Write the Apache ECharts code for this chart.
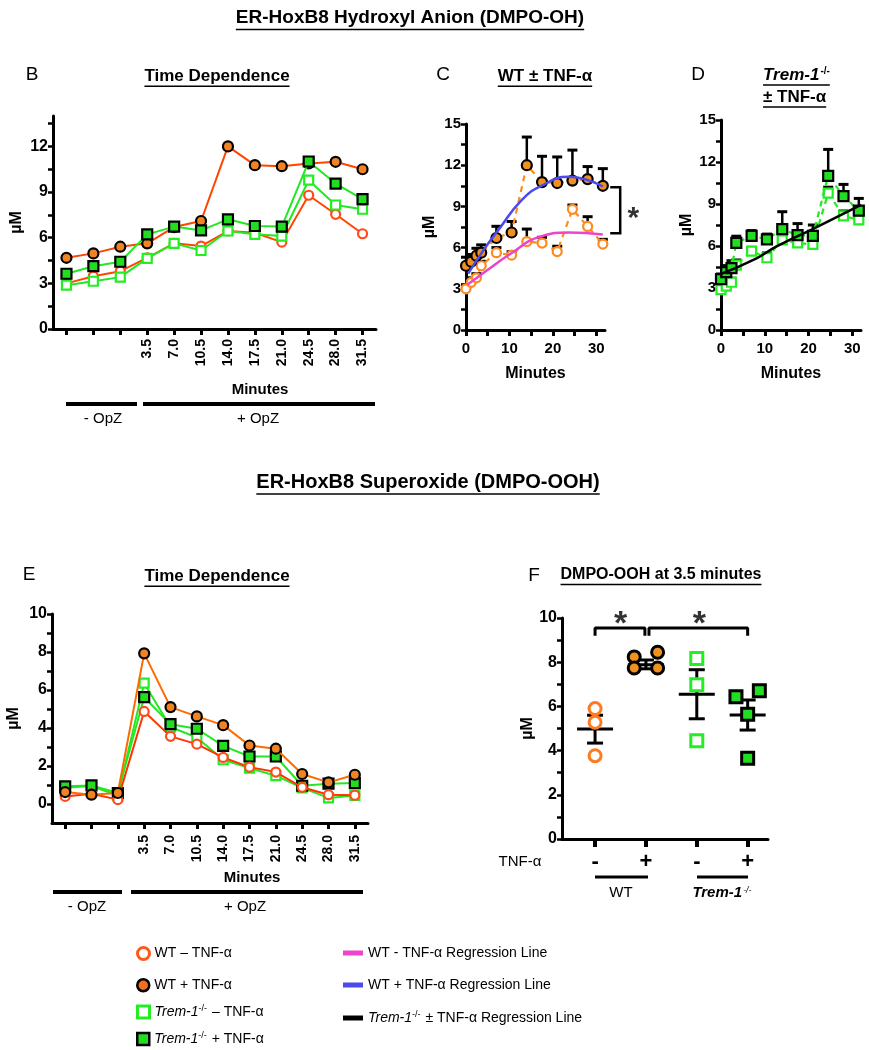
<!DOCTYPE html>
<html><head><meta charset="utf-8">
<script src="https://cdn.jsdelivr.net/npm/echarts@6/dist/echarts.min.js"></script>
<style>html,body{margin:0;padding:0;background:#fff}#c{width:869px;height:1050px}</style>
</head><body><div id="c"></div>
<script>
// ---------- DATA ----------
const timeCats = [' ', '  ', '   ', '3.5', '7.0', '10.5', '14.0', '17.5', '21.0', '24.5', '28.0', '31.5'];
const timesMin = [0, 1.2, 2.4, 3.5, 7, 10.5, 14, 17.5, 21, 24.5, 28, 31.5];

// DMPO-OH (µM)
const ohWTminus   = [3.0, 3.47, 3.8, 4.68, 5.63, 5.45, 6.44, 6.33, 5.71, 8.79, 7.54, 6.26];
const ohWTplus    = [4.68, 4.97, 5.41, 5.63, 6.70, 7.10, 12.0, 10.77, 10.70, 10.88, 10.99, 10.5];
const ohTremMinus = [2.88, 3.14, 3.41, 4.64, 5.63, 5.16, 6.44, 6.22, 6.11, 9.78, 8.15, 7.87];
const ohTremPlus  = [3.63, 4.13, 4.42, 6.22, 6.73, 6.48, 7.21, 6.77, 6.73, 11.01, 9.56, 8.53];
// upper SEM ends (µM)
const ohWTplusTop    = [5.3, 5.5, 5.95, 6.2, 7.55, 7.9, 14.05, 12.65, 12.6, 13.1, 11.9, 11.75];
const ohWTminusTop   = [3.3, 3.8, 4.1, 5.0, 6.0, 5.7, 7.35, 6.75, 6.1, 9.1, 8.25, 6.6];
const ohTremPlusTop  = [4.0, 4.6, 4.95, 6.7, 7.1, 6.85, 8.45, 7.6, 7.5, 12.9, 10.4, 9.4];
const ohTremMinusTop = [3.1, 3.4, 3.7, 5.0, 5.9, 5.5, 6.8, 6.5, 6.4, 10.2, 8.5, 8.1];
// regression curves [minutes, µM]
const regWTminus = [[0.3, 3.3], [5.1, 4.4], [10, 5.5], [17.1, 6.8], [23.8, 7.1], [31.5, 6.95]];
const regWTplus  = [[0.5, 4.1], [4, 5.8], [7.5, 7.3], [12.8, 9.45], [17.1, 10.45], [23.6, 11.15], [31.5, 10.45]];
const regTrem    = [[0, 4.0], [8, 5.1], [12.6, 5.95], [21.3, 7.26], [32, 8.93]];

// DMPO-OOH (µM)
const oohWTminus   = [0.40, 0.54, 0.23, 4.87, 3.56, 3.15, 2.45, 1.94, 1.68, 0.88, 0.49, 0.46];
const oohWTplus    = [0.63, 0.49, 0.58, 7.93, 5.10, 4.61, 4.15, 3.08, 2.91, 1.58, 1.14, 1.54];
const oohTremMinus = [0.85, 0.95, 0.45, 6.36, 4.05, 3.50, 2.33, 1.89, 1.49, 0.85, 0.32, 0.45];
const oohTremPlus  = [0.93, 0.98, 0.58, 5.62, 4.20, 3.96, 3.06, 2.50, 2.50, 0.96, 1.07, 1.10];

// Panel F: DMPO-OOH at 3.5 minutes
const fGroups = [1, 2, 3, 4];
const fSigns = ['-', '+', '-', '+'];
const fWTminus = [5.9, 5.28, 3.77];
const fWTplus = [8.24, 8.45, 7.74, 7.74];
const fTremMinus = [8.17, 6.98, 4.45];
const fTremPlus = [6.44, 6.71, 5.64, 3.65];
const fJitterWTplus = [-0.23, 0.23, -0.23, 0.23];
const fJitterTremPlus = [-0.23, 0.23, 0, 0];
const fMean = [4.98, 7.89, 6.55, 5.61];
const fSemLo = [4.34, 7.70, 5.44, 4.93];
const fSemHi = [5.60, 8.10, 7.66, 6.29];

// tick values
const yTicksB = [0, 1.5, 3, 4.5, 6, 7.5, 9, 10.5, 12, 13.5];
const yLabelsB = [0, 3, 6, 9, 12];
const yTicksCD = [0, 1.5, 3, 4.5, 6, 7.5, 9, 10.5, 12, 13.5, 15];
const yLabelsCD = [0, 3, 6, 9, 12, 15];
const xTicksCD = [0, 5, 10, 15, 20, 25, 30];
const xLabelsCD = [0, 10, 20, 30];
const yTicksEF = [0, 1, 2, 3, 4, 5, 6, 7, 8, 9, 10];
const yLabelsEF = [0, 2, 4, 6, 8, 10];

// ---------- STYLE ----------
const FONT = '"Liberation Sans", Arial, Helvetica, sans-serif';
const C_WT_LINE = '#FF4500', C_WT_MK = '#FF4A1A', C_WT_FILL = '#F28322';
const C_GR_LINE = '#22E822', C_GR_MK = '#22EE22', C_GR_FILL = '#22DD22';
const C_OR2 = '#FF8A1E', C_OR2_FILL = '#F0901E';
const C_PINK = '#EE44CC', C_BLUE = '#4A4AEE';

const chart = echarts.init(document.getElementById('c'), null, {renderer: 'canvas'});

function yAx(grid, min, max, ticks, labels, gap, fs) {
  return {
    gridIndex: grid, type: 'value', min: min, max: max,
    name: 'µM', nameLocation: 'middle', nameRotate: 90, nameGap: gap,
    nameTextStyle: {fontSize: 16, fontWeight: 'bold', fontFamily: FONT, color: '#000'},
    axisLine: {show: true, onZero: false, lineStyle: {color: '#000', width: 3}},
    axisTick: {show: true, length: 5, lineStyle: {color: '#000', width: 2.5}, customValues: ticks},
    axisLabel: {customValues: labels, fontSize: fs, fontWeight: 'bold', color: '#000', fontFamily: FONT, margin: 5},
    splitLine: {show: false}
  };
}
function xCat(grid, margin) {
  return {
    gridIndex: grid, type: 'category', data: timeCats, boundaryGap: true,
    axisLine: {show: true, onZero: false, lineStyle: {color: '#000', width: 3}},
    axisTick: {show: true, alignWithLabel: true, length: 6, lineStyle: {color: '#000', width: 3}},
    axisLabel: {rotate: 90, interval: 0, fontSize: 14, fontWeight: 'bold', color: '#000', fontFamily: FONT, margin: margin},
    splitLine: {show: false}
  };
}
function xMin(grid) {
  return {
    gridIndex: grid, type: 'value', min: 0, max: 32,
    name: 'Minutes', nameLocation: 'middle', nameGap: 36,
    nameTextStyle: {fontSize: 16, fontWeight: 'bold', fontFamily: FONT, color: '#000'},
    axisLine: {show: true, onZero: false, lineStyle: {color: '#000', width: 3}},
    axisTick: {show: true, length: 6, lineStyle: {color: '#000', width: 3}, customValues: xTicksCD},
    axisLabel: {customValues: xLabelsCD, fontSize: 15, fontWeight: 'bold', color: '#000', fontFamily: FONT, margin: 11},
    splitLine: {show: false}
  };
}

function lineSeries(name, xi, data, lineColor, sym, fill, border, size, extra) {
  return Object.assign({
    type: 'line', name: name, xAxisIndex: xi, yAxisIndex: xi, data: data,
    symbol: sym, symbolSize: size, showSymbol: true,
    lineStyle: {color: lineColor, width: 2},
    itemStyle: {color: fill, borderColor: border, borderWidth: 2.2},
    emphasis: {disabled: true}, z: 3
  }, extra || {});
}
function errUp(xi, data) {
  return {
    type: 'custom', xAxisIndex: xi, yAxisIndex: xi, data: data, z: 1, silent: true,
    renderItem: function (params, api) {
      const p0 = api.coord([api.value(0), api.value(1)]);
      const p1 = api.coord([api.value(0), api.value(2)]);
      return {type: 'group', children: [
        {type: 'line', shape: {x1: p0[0], y1: p0[1], x2: p1[0], y2: p1[1]}, style: {stroke: '#000', lineWidth: 2.5}},
        {type: 'line', shape: {x1: p1[0] - 5, y1: p1[1], x2: p1[0] + 5, y2: p1[1]}, style: {stroke: '#000', lineWidth: 3}}
      ]};
    }
  };
}
// bracket: [xInner, xOuter, yTop, yBottom] (vertical bracket opening left)
function vBracket(xi, data) {
  return {
    type: 'custom', xAxisIndex: xi, yAxisIndex: xi, data: data, clip: false, silent: true, z: 5,
    renderItem: function (params, api) {
      const a = api.coord([api.value(0), api.value(2)]);
      const b = api.coord([api.value(1), api.value(2)]);
      const c = api.coord([api.value(1), api.value(3)]);
      const d = api.coord([api.value(0), api.value(3)]);
      return {type: 'polyline', shape: {points: [a, b, c, d]}, style: {stroke: '#000', lineWidth: 2.5, fill: null}};
    }
  };
}
const pair = (xs, ys) => xs.map((x, i) => [x, ys[i]]);

const series = [];
// ---- Panel B (grid 0)
series.push(lineSeries('WT – TNF-α', 0, ohWTminus, C_WT_LINE, 'circle', '#fff', C_WT_MK, 9, {z: 3}));
series.push(lineSeries('Trem-1-/- – TNF-α', 0, ohTremMinus, C_GR_LINE, 'rect', '#fff', C_GR_MK, 9, {z: 4}));
series.push(lineSeries('WT + TNF-α', 0, ohWTplus, C_WT_LINE, 'circle', C_WT_FILL, '#000', 10, {z: 5}));
series.push(lineSeries('Trem-1-/- + TNF-α', 0, ohTremPlus, C_GR_LINE, 'rect', C_GR_FILL, '#000', 10, {z: 6}));

// ---- Panel C (grid 1)
series.push(errUp(1, timesMin.map((t, i) => [t, ohWTminus[i], ohWTminusTop[i]])));
series.push(errUp(1, timesMin.map((t, i) => [t, ohWTplus[i], ohWTplusTop[i]])));
series.push(lineSeries('WT – TNF-α', 1, pair(timesMin, ohWTminus), C_OR2, 'circle', '#fff', C_OR2, 9,
  {lineStyle: {color: C_OR2, width: 2.2, type: [6, 5]}, z: 3}));
series.push(lineSeries('WT + TNF-α', 1, pair(timesMin, ohWTplus), C_OR2, 'circle', C_OR2_FILL, '#000', 10,
  {lineStyle: {color: C_OR2, width: 2.2, type: [6, 5]}, z: 4}));
series.push({type: 'line', name: 'WT - TNF-α Regression Line', xAxisIndex: 1, yAxisIndex: 1, data: regWTminus,
  smooth: true, symbol: 'none', lineStyle: {color: C_PINK, width: 2.5}, itemStyle: {color: C_PINK}, z: 7, silent: true});
series.push({type: 'line', name: 'WT + TNF-α Regression Line', xAxisIndex: 1, yAxisIndex: 1, data: regWTplus,
  smooth: true, symbol: 'none', lineStyle: {color: C_BLUE, width: 2.5}, itemStyle: {color: C_BLUE}, z: 7, silent: true});
// significance bracket and star
series.push(vBracket(1, [[33.2, 35.5, 10.4, 7.05]]));
series.push({type: 'scatter', xAxisIndex: 1, yAxisIndex: 1, data: [[38.5, 8.1]], symbolSize: 0, clip: false, silent: true,
  label: {show: true, position: 'inside', formatter: '*', fontSize: 30, fontWeight: 'bold', color: '#000', fontFamily: FONT}});

// ---- Panel D (grid 2)
series.push(errUp(2, timesMin.map((t, i) => [t, ohTremMinus[i], ohTremMinusTop[i]])));
series.push(errUp(2, timesMin.map((t, i) => [t, ohTremPlus[i], ohTremPlusTop[i]])));
series.push(lineSeries('Trem-1-/- – TNF-α', 2, pair(timesMin, ohTremMinus), C_GR_LINE, 'rect', '#fff', C_GR_MK, 9,
  {lineStyle: {color: C_GR_LINE, width: 2.2, type: [6, 5]}, z: 3}));
series.push(lineSeries('Trem-1-/- + TNF-α', 2, pair(timesMin, ohTremPlus), C_GR_LINE, 'rect', C_GR_FILL, '#000', 10,
  {lineStyle: {color: C_GR_LINE, width: 2.2, type: [6, 5]}, z: 4}));
series.push({type: 'line', name: 'Trem-1-/- ± TNF-α Regression Line', xAxisIndex: 2, yAxisIndex: 2, data: regTrem,
  smooth: true, symbol: 'none', lineStyle: {color: '#000', width: 2.5}, itemStyle: {color: '#000'}, z: 7, silent: true});

// ---- Panel E (grid 3)
series.push(lineSeries('Trem-1-/- – TNF-α', 3, oohTremMinus, C_GR_LINE, 'rect', '#fff', C_GR_MK, 9, {z: 3}));
series.push(lineSeries('Trem-1-/- + TNF-α', 3, oohTremPlus, C_GR_LINE, 'rect', C_GR_FILL, '#000', 10, {z: 4}));
series.push(lineSeries('WT – TNF-α', 3, oohWTminus, '#FF3300', 'circle', '#fff', C_WT_MK, 9, {z: 5}));
series.push(lineSeries('WT + TNF-α', 3, oohWTplus, '#FF6A00', 'circle', C_WT_FILL, '#000', 10, {z: 6}));

// ---- Panel F (grid 4)
series.push({type: 'custom', xAxisIndex: 4, yAxisIndex: 4, silent: true, z: 2,
  data: fGroups.map((g, i) => [g, fMean[i], fSemLo[i], fSemHi[i]]),
  renderItem: function (params, api) {
    const m = api.coord([api.value(0), api.value(1)]);
    const lo = api.coord([api.value(0), api.value(2)]);
    const hi = api.coord([api.value(0), api.value(3)]);
    const st = {stroke: '#000', lineWidth: 3};
    return {type: 'group', children: [
      {type: 'line', shape: {x1: lo[0], y1: lo[1], x2: hi[0], y2: hi[1]}, style: st},
      {type: 'line', shape: {x1: lo[0] - 8, y1: lo[1], x2: lo[0] + 8, y2: lo[1]}, style: st},
      {type: 'line', shape: {x1: hi[0] - 8, y1: hi[1], x2: hi[0] + 8, y2: hi[1]}, style: st},
      {type: 'line', shape: {x1: m[0] - 18, y1: m[1], x2: m[0] + 18, y2: m[1]}, style: st}
    ]};
  }});
series.push({type: 'scatter', name: 'WT – TNF-α', xAxisIndex: 4, yAxisIndex: 4, z: 4,
  data: fWTminus.map(v => [fGroups[0], v]), symbol: 'circle', symbolSize: 12,
  itemStyle: {color: '#fff', borderColor: '#FF7A1E', borderWidth: 3, opacity: 1}});
series.push({type: 'scatter', name: 'WT + TNF-α', xAxisIndex: 4, yAxisIndex: 4, z: 4,
  data: fWTplus.map((v, i) => [fGroups[1] + fJitterWTplus[i], v]), symbol: 'circle', symbolSize: 12,
  itemStyle: {color: C_OR2_FILL, borderColor: '#000', borderWidth: 3, opacity: 1}});
series.push({type: 'scatter', name: 'Trem-1-/- – TNF-α', xAxisIndex: 4, yAxisIndex: 4, z: 4,
  data: fTremMinus.map(v => [fGroups[2], v]), symbol: 'rect', symbolSize: 12,
  itemStyle: {color: '#fff', borderColor: C_GR_MK, borderWidth: 3, opacity: 1}});
series.push({type: 'scatter', name: 'Trem-1-/- + TNF-α', xAxisIndex: 4, yAxisIndex: 4, z: 4,
  data: fTremPlus.map((v, i) => [fGroups[3] + fJitterTremPlus[i], v]), symbol: 'rect', symbolSize: 12,
  itemStyle: {color: C_GR_FILL, borderColor: '#000', borderWidth: 3, opacity: 1}});
series.push({type: 'line', xAxisIndex: 4, yAxisIndex: 4, symbol: 'none', clip: false, silent: true,
  data: [[1, 9.2], [1, 9.55], [1.98, 9.55], [1.98, 9.2]], lineStyle: {color: '#000', width: 3}});
series.push({type: 'line', xAxisIndex: 4, yAxisIndex: 4, symbol: 'none', clip: false, silent: true,
  data: [[2.06, 9.2], [2.06, 9.55], [4, 9.55], [4, 9.2]], lineStyle: {color: '#000', width: 3}});
series.push({type: 'scatter', xAxisIndex: 4, yAxisIndex: 4, data: [[1.5, 9.7], [3.05, 9.7]], symbolSize: 0, clip: false, silent: true,
  label: {show: true, position: 'inside', formatter: '*', fontSize: 34, fontWeight: 'bold', color: '#000', fontFamily: FONT}});

// ---------- TEXT / DECORATION ----------
const cv = document.createElement('canvas').getContext('2d');
function tw(t, font) { cv.font = font; return cv.measureText(t).width; }
const graphic = [];
function txt(t, x, y, size, weight, align, extra) {
  graphic.push({type: 'text', x: x, y: y, silent: true, style: Object.assign({text: t, fill: '#000',
    font: (weight || 'normal') + ' ' + size + 'px ' + FONT, textAlign: align || 'center', textVerticalAlign: 'middle'}, extra || {})});
}
function uTitle(t, cx, cy, size) {
  txt(t, cx, cy, size, 'bold', 'center');
  const w = tw(t, 'bold ' + size + 'px ' + FONT);
  graphic.push({type: 'line', silent: true, shape: {x1: cx - w / 2, y1: cy + size * 0.6, x2: cx + w / 2, y2: cy + size * 0.6}, style: {stroke: '#000', lineWidth: 1.5}});
}
function hbar(x1, x2, y, w) {
  graphic.push({type: 'line', silent: true, shape: {x1: x1, y1: y, x2: x2, y2: y}, style: {stroke: '#000', lineWidth: w}});
}
uTitle('ER-HoxB8 Hydroxyl Anion (DMPO-OH)', 410, 18, 19);
uTitle('ER-HoxB8 Superoxide (DMPO-OOH)', 428, 482, 20);
txt('B', 32, 75, 19); txt('C', 443, 75, 19); txt('D', 698, 75, 19);
txt('E', 29, 575, 19); txt('F', 534, 576, 19);
uTitle('Time Dependence', 217, 76, 17);
uTitle('WT ± TNF-α', 545, 76, 17);
uTitle('Time Dependence', 217, 576, 17);
uTitle('DMPO-OOH at 3.5 minutes', 661, 575, 16);
// D title (italic gene name + superscript)
graphic.push({type: 'text', x: 763, y: 75, silent: true, style: {text: '{i|Trem-1}{s|-/-}', textVerticalAlign: 'middle', fill: '#000',
  rich: {i: {font: 'italic bold 17px ' + FONT, fill: '#000'}, s: {font: 'bold 10px ' + FONT, fill: '#000', verticalAlign: 'top', padding: [0, 0, 6, 1]}}}});
(function () {
  const w1 = tw('Trem-1', 'italic bold 17px ' + FONT) + tw('-/-', 'bold 10px ' + FONT) + 1;
  hbar(763, 763 + w1, 85, 1.5);
  txt('± TNF-α', 763, 97, 17, 'bold', 'left');
  hbar(763, 763 + tw('± TNF-α', 'bold 17px ' + FONT), 107, 1.5);
})();
// B axis annotations
txt('Minutes', 260, 390, 15, 'bold');
hbar(66, 137, 404, 4); hbar(143, 375, 404, 4);
txt('- OpZ', 103, 419, 15); txt('+ OpZ', 258, 419, 15);
// E axis annotations
txt('Minutes', 252, 878, 15, 'bold');
hbar(53, 122, 892, 4); hbar(131, 363, 892, 4);
txt('- OpZ', 87, 907, 15); txt('+ OpZ', 245, 907, 15);
// F axis annotations
txt('TNF-α', 520, 862, 15);
hbar(595, 648, 877, 3); hbar(697, 748, 877, 3);
txt('WT', 621, 893, 15);
graphic.push({type: 'text', x: 722, y: 893, silent: true, style: {text: '{i|Trem-1}{s|-/-}', textAlign: 'center', textVerticalAlign: 'middle', fill: '#000',
  rich: {i: {font: 'italic bold 15px ' + FONT, fill: '#000'}, s: {font: 'italic 9px ' + FONT, fill: '#000', verticalAlign: 'top', padding: [0, 0, 6, 1]}}}});

// ---------- LEGENDS ----------
const legRich = {i: {fontStyle: 'italic', fontSize: 14, fontFamily: FONT, color: '#000'},
  s: {fontSize: 9, fontFamily: FONT, color: '#000', verticalAlign: 'top', padding: [0, 1, 7, 0]}};
const legFmt = n => n.indexOf('Trem-1-/-') === 0 ? '{i|Trem-1}{s|-/-}' + n.slice(9) : n;
function leg(left, top, item, w, h) {
  return {show: true, left: left, top: top, orient: 'vertical', selectedMode: false, itemWidth: w, itemHeight: h,
    padding: 0, itemGap: 0, data: [item], formatter: legFmt,
    textStyle: {fontSize: 14, fontFamily: FONT, color: '#000', rich: legRich}};
}
const legends = [
  leg(136, 946, {name: 'WT – TNF-α', icon: 'circle', itemStyle: {color: '#fff', borderColor: '#FF5A1A', borderWidth: 3}}, 12, 12),
  leg(136, 978, {name: 'WT + TNF-α', icon: 'circle', itemStyle: {color: '#F07020', borderColor: '#000', borderWidth: 2.5}}, 12, 12),
  leg(136, 1004, {name: 'Trem-1-/- – TNF-α', icon: 'rect', itemStyle: {color: '#fff', borderColor: C_GR_MK, borderWidth: 3}}, 12, 12),
  leg(136, 1031, {name: 'Trem-1-/- + TNF-α', icon: 'rect', itemStyle: {color: C_GR_FILL, borderColor: '#000', borderWidth: 2.5}}, 12, 12),
  leg(343, 946, {name: 'WT - TNF-α Regression Line', icon: 'rect', itemStyle: {color: C_PINK, borderWidth: 0}}, 20, 5),
  leg(343, 978, {name: 'WT + TNF-α Regression Line', icon: 'rect', itemStyle: {color: C_BLUE, borderWidth: 0}}, 20, 5),
  leg(343, 1010, {name: 'Trem-1-/- ± TNF-α Regression Line', icon: 'rect', itemStyle: {color: '#000', borderWidth: 0}}, 20, 5)
];

const option = {
  animation: false,
  backgroundColor: '#fff',
  textStyle: {fontFamily: FONT},
  grid: [
    {left: 53, top: 116, width: 323, height: 213},
    {left: 466, top: 124, width: 139, height: 206},
    {left: 721, top: 120, width: 140, height: 210},
    {left: 52, top: 614, width: 316, height: 209},
    {left: 562, top: 618, width: 206, height: 221}
  ],
  xAxis: [
    xCat(0, 10),
    xMin(1),
    xMin(2),
    xCat(3, 12),
    {gridIndex: 4, type: 'value', min: 0.35, max: 4.4,
      axisLine: {show: true, onZero: false, lineStyle: {color: '#000', width: 3}},
      axisTick: {show: true, length: 8, lineStyle: {color: '#000', width: 4}, customValues: fGroups},
      axisLabel: {customValues: fGroups, formatter: v => fSigns[Math.round(v) - 1], fontSize: 22, fontWeight: 'bold', color: '#000', fontFamily: FONT, margin: 12},
      splitLine: {show: false}}
  ],
  yAxis: [
    yAx(0, 0, 14, yTicksB, yLabelsB, 28, 16),
    yAx(1, 0, 15, yTicksCD, yLabelsCD, 28, 15),
    yAx(2, 0, 15, yTicksCD, yLabelsCD, 26, 15),
    yAx(3, -1, 10, yTicksEF, yLabelsEF, 30, 16),
    yAx(4, 0, 10, yTicksEF, yLabelsEF, 24, 16)
  ],
  legend: legends,
  series: series,
  graphic: graphic
};
chart.setOption(option);
</script></body></html>
